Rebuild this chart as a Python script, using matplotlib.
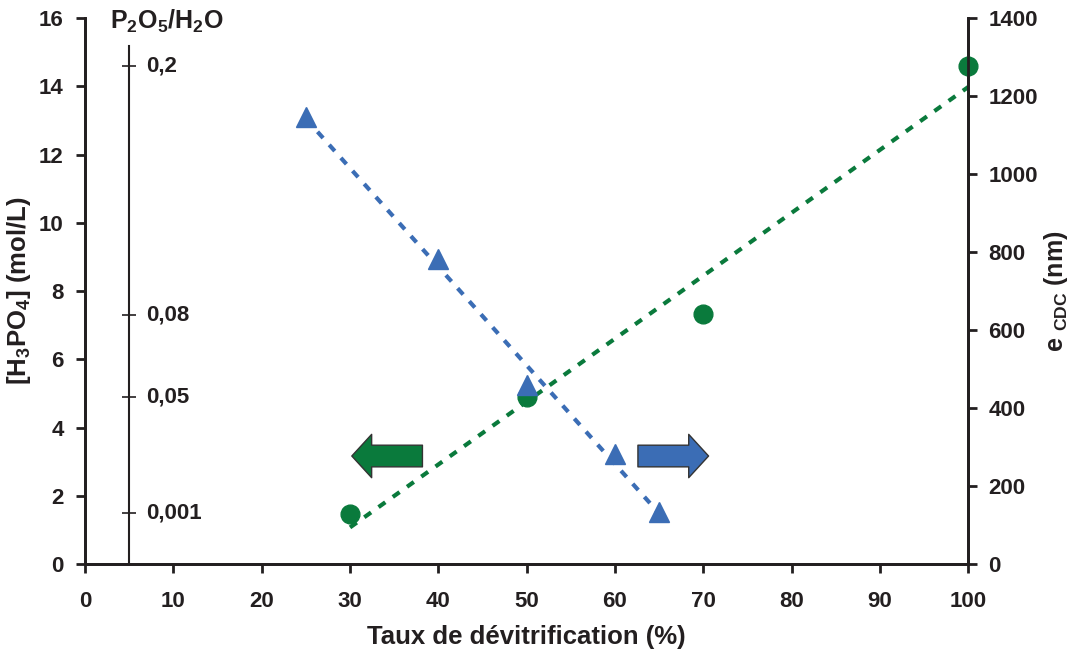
import matplotlib.pyplot as plt
import matplotlib.patches as mpatches
import numpy as np

plt.rcParams['font.family'] = ['Liberation Sans', 'DejaVu Sans']
plt.rcParams['font.weight'] = 'bold'
plt.rcParams['mathtext.default'] = 'regular'

# data
green_x = [30, 50, 70, 100]
green_y = [1.47, 4.89, 7.33, 14.59]          # [H3PO4] mol/L (left axis)
blue_x = [25, 40, 50, 60, 65]
blue_y = [1146, 782, 459, 282, 133]          # e CDC nm (right axis)
ratio_pos = [14.6, 7.3, 4.9, 1.5]            # P2O5/H2O marks on left scale
ratio_labels = ['0,2', '0,08', '0,05', '0,001']

green = '#0a7a3c'
blue = '#3b6db5'
dark = '#231f20'

fig = plt.figure(figsize=(10.77, 6.5), dpi=100)
ax = fig.add_axes([0.079, 0.132, 0.820, 0.840])
ax2 = ax.twinx()

ax.set_xlim(0, 100)
ax.set_ylim(0, 16)
ax2.set_ylim(0, 1400)
ax.set_xticks(np.arange(0, 101, 10))
ax.set_yticks(np.arange(0, 17, 2))
ax2.set_yticks(np.arange(0, 1401, 200))

for a in (ax, ax2):
    a.spines['top'].set_visible(False)
    for s in a.spines.values():
        s.set_linewidth(2)
        s.set_color(dark)
    a.tick_params(direction='out', length=6.5, width=2, labelsize=16, colors=dark)
ax.tick_params(axis='x', pad=13)
ax.tick_params(axis='y', pad=9)
ax2.tick_params(axis='y', pad=8)

# trend lines
pg = np.polyfit(green_x, green_y, 1)
xg = np.array([min(green_x), max(green_x)])
ax.plot(xg, np.polyval(pg, xg), ls=(0, (2, 2.2)), lw=3, color=green, zorder=2)
pb = np.polyfit(blue_x, blue_y, 1)
xb = np.array([min(blue_x), max(blue_x)])
ax2.plot(xb, np.polyval(pb, xb), ls=(0, (2, 2.2)), lw=3, color=blue, zorder=2)

ax.plot(green_x, green_y, 'o', ms=13.5, color=green, zorder=3, clip_on=False)
ax2.plot(blue_x, blue_y, '^', ms=14, color=blue, zorder=3, clip_on=False)

# inner P2O5/H2O scale
ax.plot([5, 5], [0, 15.2], color=dark, lw=1.5)
ax.plot([5] * len(ratio_pos), ratio_pos, '_', ms=10, mew=1.2, color=dark)
for v, lab in zip(ratio_pos, ratio_labels):
    ax.text(6.9, v, lab, fontsize=16, fontweight='bold', va='center', ha='left', color=dark)
ax.text(9.2, 15.9, 'P$_2$O$_5$/H$_2$O', fontsize=18, fontweight='bold',
        ha='center', va='center', color=dark)

# arrows
for x0, x1, c in [(38.2, 30.2, green), (62.6, 70.6, blue)]:
    arr = mpatches.FancyArrowPatch((x0, 3.17), (x1, 3.17),
                                   arrowstyle='simple,head_width=2.4,head_length=1.1,tail_width=1.2',
                                   mutation_scale=13, shrinkA=0, shrinkB=0,
                                   fc=c, ec='#333333', lw=1, zorder=4)
    ax.add_patch(arr)

ax.set_xlabel('Taux de dévitrification (%)', fontsize=18.5, fontweight='bold', color=dark, labelpad=9)
ax.set_ylabel('[H$_3$PO$_4$] (mol/L)', fontsize=18.5, fontweight='bold', color=dark, labelpad=4)
ax2.set_ylabel('e $_{CDC}$ (nm)', fontsize=18, fontweight='bold', color=dark, labelpad=3)

fig.savefig('out.png', dpi=100)
